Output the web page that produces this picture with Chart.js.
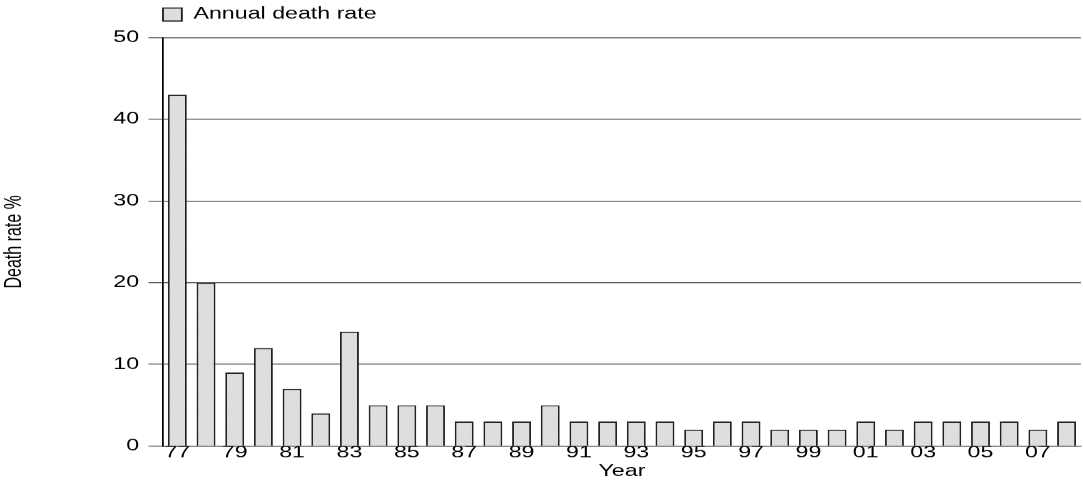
<!DOCTYPE html>
<html><head><meta charset="utf-8">
<script src="https://cdn.jsdelivr.net/npm/chart.js@4.4.1/dist/chart.umd.min.js"></script>
<style>
html,body{margin:0;padding:0;background:#fff;overflow:hidden}
#c{width:1083px !important;height:487px !important;display:block}
</style></head>
<body>
<canvas id="c" width="747" height="487" style="width:1083px;height:487px;display:block"></canvas>
<script>
// ---- data ----
const years = ['77','78','79','80','81','82','83','84','85','86','87','88','89','90','91','92',
               '93','94','95','96','97','98','99','00','01','02','03','04','05','06','07','08'];
const deathRates = [43,20,9,12,7,4,14,5,5,5,3,3,3,5,3,3,
                    3,3,2,3,3,2,2,2,3,2,3,3,3,3,2,3];
const yTickValues = [0,10,20,30,40,50];
const seriesLabel = 'Annual death rate';
const xTitle = 'Year';
const yTitle = 'Death rate %';

// ---- style ----
const SX = 1.4499;               // horizontal stretch of the original picture
const FONT = "'Liberation Sans', Arial, sans-serif";

function makePattern() {
  const p = document.createElement('canvas');
  p.width = 2; p.height = 2;
  const g = p.getContext('2d');
  g.fillStyle = '#ebebeb'; g.fillRect(0,0,2,2);
  g.fillStyle = '#d2d2d2'; g.fillRect(0,0,1,1); g.fillRect(1,1,1,1);
  return g.createPattern(p, 'repeat');
}
const canvas = document.getElementById('c');
const pattern = makePattern();

const legendShift = {
  id: 'legendShift',
  afterLayout(chart) {
    const lg = chart.legend;
    if (lg) {
      const pad = lg.options.labels.padding;
      lg.left = chart.chartArea.left - pad;
      lg.top = -5;
    }
  }
};

new Chart(canvas, {
  type: 'bar',
  data: {
    labels: years,
    datasets: [{
      label: seriesLabel,
      data: deathRates,
      backgroundColor: pattern,
      borderColor: '#222222',
      borderWidth: 1.3,
      barPercentage: 0.66,
      categoryPercentage: 1.0
    }]
  },
  options: {
    responsive: false,
    animation: false,
    devicePixelRatio: SX,
    layout: { padding: { left: 0, right: 1.5, top: 0, bottom: 0 } },
    plugins: {
      tooltip: { enabled: false },
      legend: {
        display: true,
        position: 'top',
        align: 'start',
        labels: {
          boxWidth: 13, boxHeight: 13, padding: 11.5,
          color: '#000',
          font: { family: FONT, size: 16 }
        }
      }
    },
    scales: {
      x: {
        grid: { display: false, drawTicks: false },
        border: { display: true, color: '#8a8a8a', width: 1.3 },
        ticks: {
          autoSkip: false, maxRotation: 0, padding: -3,
          color: '#000', font: { family: FONT, size: 16 },
          callback: function(v, i) { return i % 2 === 0 ? years[i] : ''; }
        },
        title: {
          display: true, text: xTitle, color: '#000',
          font: { family: FONT, size: 16 },
          padding: { top: 0, bottom: 6 }
        },
        afterFit(scale) { scale.height = 41; }
      },
      y: {
        min: 0, max: 50,
        afterBuildTicks(scale) { scale.ticks = yTickValues.map(v => ({ value: v })); },
        grid: { color: '#5e5e5e', lineWidth: 1, drawTicks: true, tickLength: 10, tickColor: '#5e5e5e' },
        border: { display: true, color: '#000', width: 1.2 },
        ticks: { padding: 6.5, color: '#000', font: { family: FONT, size: 16 } },
        title: {
          display: true, text: yTitle, color: '#000',
          font: { family: FONT, size: 16 },
          padding: { top: 0.5, bottom: 0 }
        },
        afterFit(scale) { scale.width = 163 / SX; }
      }
    }
  },
  plugins: [legendShift]
});
</script>
</body></html>
